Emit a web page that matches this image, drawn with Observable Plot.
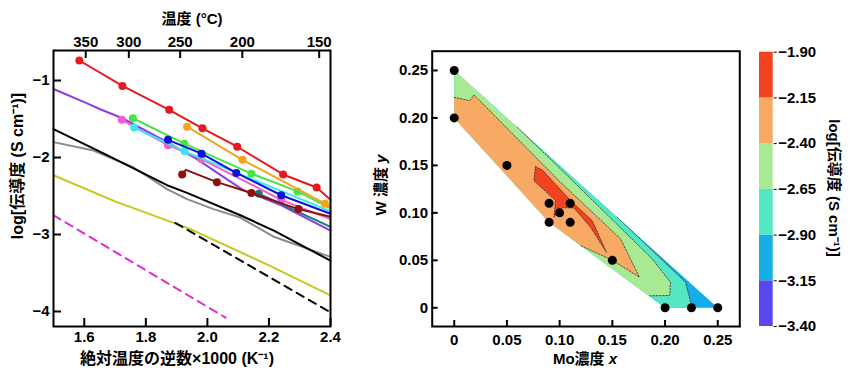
<!DOCTYPE html>
<html><head><meta charset="utf-8">
<script src="https://cdn.jsdelivr.net/npm/d3@7"></script>
<script src="https://cdn.jsdelivr.net/npm/@observablehq/plot@0.6"></script>
<style>
body{margin:0;background:#fff;}
#wrap{position:relative;width:851px;height:380px;overflow:hidden;background:#fff;}
#wrap svg{position:absolute;top:0;}
</style></head><body><div id="wrap"></div>
<script>
const FONT = '"Liberation Sans", Arial, "Noto Sans CJK JP", sans-serif';

// ---------- left panel: ticks ----------
const xTicks = [1.6, 1.8, 2.0, 2.2, 2.4];
const yTicks = [-1, -2, -3, -4];
const tempTicks = [350, 300, 250, 200, 150];

// ---------- left panel: series [1000/T, log sigma, marker?] ----------
const redS     = [[1.584,-0.74,1],[1.724,-1.07,1],[1.876,-1.38,1],[1.984,-1.62,1],[2.097,-1.86,1],[2.246,-2.22,1],[2.355,-2.39,1],[2.4,-2.55,0]];
const orangeS  = [[1.934,-1.60,1],[2.114,-2.03,1],[2.382,-2.60,1],[2.4,-2.64,0]];
const greenS   = [[1.758,-1.49,1],[1.925,-1.82,1],[2.143,-2.21,1],[2.293,-2.44,1],[2.4,-2.66,0]];
const cyanS    = [[1.762,-1.61,1],[1.926,-1.92,1],[2.4,-2.70,0]];
const blueS    = [[1.872,-1.77,1],[1.981,-1.95,1],[2.094,-2.20,1],[2.240,-2.49,1],[2.4,-2.73,0]];
const pinkS    = [[1.722,-1.51,1],[1.872,-1.84,1],[1.980,-2.02,1],[2.240,-2.55,1],[2.4,-2.80,0]];
const purpleS  = [[1.5,-1.11,0],[1.6,-1.28,0],[1.65,-1.37,0],[1.724,-1.49,0],[1.874,-1.81,0],[1.966,-2.02,0],[2.115,-2.42,0],[2.24,-2.62,0],[2.4,-2.95,0]];
const maroonS  = [[1.918,-2.22,1],[1.930,-2.16,0],[2.031,-2.32,1],[2.143,-2.46,1],[2.296,-2.67,1],[2.4,-2.77,0]];
const tealS    = [[2.167,-2.47,1],[2.4,-2.90,0]];
const blackS   = [[1.5,-1.63],[1.674,-1.97],[1.869,-2.36],[1.934,-2.46],[2.107,-2.75],[2.216,-2.95],[2.4,-3.34]];
const grayS    = [[1.5,-1.80],[1.63,-1.91],[1.76,-2.13],[1.869,-2.41],[1.934,-2.54],[2.02,-2.67],[2.107,-2.78],[2.216,-3.03],[2.4,-3.29]];
const yellowS  = [[1.5,-2.23],[1.7,-2.57],[1.945,-2.93],[2.2,-3.40],[2.4,-3.79]];
const blackDashS   = [[1.896,-2.85],[2.4,-4.01]];
const magentaDashS = [[1.5,-2.75],[2.059,-4.08]];

// ---------- right panel data ----------
const moX = [0, 0, 0.05, 0.09, 0.11, 0.10, 0.09, 0.11, 0.15, 0.20, 0.225, 0.25];
const wY  = [0.25, 0.20, 0.15, 0.11, 0.11, 0.10, 0.09, 0.09, 0.05, 0, 0, 0];
const compTicks = [0, 0.05, 0.10, 0.15, 0.20, 0.25];
// region of the map and iso-conductivity boundaries (Mo x, W y)
const hull = [[0,0.25],[0.25,0],[0.2,0],[0.09,0.09],[0,0.2]];
const c290 = [[0.155,0.095],[0.2194,0.027],[0.2257,0]];
const c265 = [[0.06,0.19],[0.1008,0.1463],[0.1878,0.0516],[0.2051,0.027],[0.2045,0.013],[0.1846,0.0126]];
const c240 = [[0,0.2217],[0.0148,0.2182],[0.0186,0.2242],[0.0211,0.2217],[0.1008,0.1322],[0.1578,0.0726],[0.1757,0.0322],[0.15,0.05],[0.12,0.0655]];
const c215 = [[0.0771,0.1487],[0.0835,0.1453],[0.1103,0.1129],[0.1309,0.0919],[0.1444,0.0585],[0.1293,0.0848],[0.1134,0.1053],[0.1024,0.1053],[0.0945,0.0954],[0.0961,0.1129],[0.0755,0.134],[0.0771,0.1487]];

// ---------- colour bar ----------
const cbThresholds = [-3.40, -3.15, -2.90, -2.65, -2.40, -2.15, -1.90];
const cbColors = ["#5a48ee", "#16aee6", "#55e6c4", "#a8ea94", "#f8aa64", "#f1431f"];

const wrap = document.getElementById("wrap");
const baseStyle = {fontFamily: FONT, fontSize: "15px", fontWeight: "bold", color: "#000", background: "transparent", overflow: "visible"};
const X = d => d[0], Y = d => d[1];

function series(data, color, opts = {}) {
  const m = [Plot.line(data, {x: X, y: Y, stroke: color, strokeWidth: 2, ...opts})];
  const pts = data.filter(d => d[2]);
  if (pts.length) m.push(Plot.dot(pts, {x: X, y: Y, r: 4, fill: color, stroke: "none"}));
  return m;
}
// inward tick marks as short rules from the frame edge; labels from the axis marks
function frameAxes(W, H, m, xd, yd, spec) {
  const fw = W - m.l - m.r, fh = H - m.t - m.b, L = spec.len;
  const dX = L * (xd[1] - xd[0]) / fw, dY = L * (yd[1] - yd[0]) / fh;
  const tk = {stroke: "#000", strokeWidth: 2};
  const marks = [];
  if (spec.bottom) {
    marks.push(Plot.ruleX(spec.bottom.ticks, {x: d => d, y1: yd[0], y2: yd[0] + dY, ...tk}));
    marks.push(Plot.axisX({anchor: "bottom", ticks: spec.bottom.ticks, tickFormat: spec.bottom.fmt, tickSize: 0, tickPadding: spec.bottom.pad, label: null}));
  }
  if (spec.top) {
    marks.push(Plot.ruleX(spec.top.ticks, {x: d => d, y1: yd[1], y2: yd[1] - dY, ...tk}));
    marks.push(Plot.axisX({anchor: "top", ticks: spec.top.ticks, tickFormat: spec.top.fmt, tickSize: 0, tickPadding: spec.top.pad, label: null}));
  }
  if (spec.left) {
    marks.push(Plot.ruleY(spec.left.ticks, {y: d => d, x1: xd[0], x2: xd[0] + dX, ...tk}));
    marks.push(Plot.axisY({anchor: "left", ticks: spec.left.ticks, tickFormat: spec.left.fmt, tickSize: 0, tickPadding: spec.left.pad, label: null}));
  }
  return marks;
}

// ================= LEFT PLOT =================
const LM = {l: 53, r: 15, t: 50, b: 54};
const LX = [1.5, 2.4], LY = [-4.195, -0.61];
const left = Plot.plot({
  width: 345, height: 380,
  marginLeft: LM.l, marginRight: LM.r, marginTop: LM.t, marginBottom: LM.b,
  style: baseStyle,
  x: {domain: LX},
  y: {domain: LY},
  marks: [
    ...series(grayS, "#8a8a8a"),
    ...series(blackS, "#000"),
    ...series(yellowS, "#c9c71c"),
    ...series(blackDashS, "#000", {strokeDasharray: "8,6"}),
    ...series(magentaDashS, "#e22ccf", {strokeDasharray: "8,6"}),
    ...series(purpleS, "#8b3ee2"),
    ...series(tealS, "#1d7a78"),
    ...series(pinkS, "#f25fcd"),
    ...series(cyanS, "#3ce8ef"),
    ...series(maroonS, "#8c1010"),
    ...series(greenS, "#46e446"),
    ...series(blueS, "#0c12dc"),
    ...series(orangeS, "#f6a21c"),
    ...series(redS, "#e8191c"),
    Plot.frame({stroke: "#000", strokeWidth: 2}),
    ...frameAxes(345, 380, LM, LX, LY, {
      len: 8,
      bottom: {ticks: xTicks, fmt: d3.format(".1f"), pad: 5},
      top: {ticks: tempTicks.map(t => 1000 / (t + 273.15)), fmt: d => String(Math.round(1000 / d - 273.15)), pad: 4},
      left: {ticks: yTicks, fmt: d3.format("d"), pad: 4}
    })
  ]
});
left.style.left = "0px";
wrap.appendChild(left);

// ================= RIGHT PLOT =================
const S1 = hull;
const S2 = [[0,0.25], ...c290, [0.2,0], [0.09,0.09], [0,0.2]];
const S3 = [[0,0.25], ...c265, [0.09,0.09], [0,0.2]];
const S4 = [...c240, [0.09,0.09], [0,0.2]];
const S5 = c215;
const compFmt = d => d === 0 ? "0" : d3.format(".2f")(d);
const dotted = {stroke: "#333", strokeWidth: 0.8, strokeDasharray: "1.6,1.6"};

const RM = {l: 86.7, r: 10.7, t: 50.7, b: 54};
const RX = [-0.0209, 0.2709], RY = [-0.0197, 0.2703];
const right = Plot.plot({
  width: 405, height: 380,
  marginLeft: RM.l, marginRight: RM.r, marginTop: RM.t, marginBottom: RM.b,
  style: baseStyle,
  x: {domain: RX},
  y: {domain: RY},
  marks: [
    Plot.line(S1, {x: X, y: Y, fill: cbColors[1], stroke: "none"}),
    Plot.line(S2, {x: X, y: Y, fill: cbColors[2], stroke: "none"}),
    Plot.line(S3, {x: X, y: Y, fill: cbColors[3], stroke: "none"}),
    Plot.line(S4, {x: X, y: Y, fill: cbColors[4], stroke: "none"}),
    Plot.line(S5, {x: X, y: Y, fill: cbColors[5], stroke: "none"}),
    Plot.line(c290, {x: X, y: Y, ...dotted}),
    Plot.line(c265, {x: X, y: Y, ...dotted}),
    Plot.line(c240, {x: X, y: Y, ...dotted}),
    Plot.line(c215, {x: X, y: Y, ...dotted}),
    Plot.dot(moX.map((x, i) => [x, wY[i]]), {x: X, y: Y, r: 4.5, fill: "#000", stroke: "none"}),
    Plot.frame({stroke: "#000", strokeWidth: 2}),
    ...frameAxes(405, 380, RM, RX, RY, {
      len: 6,
      bottom: {ticks: compTicks, fmt: compFmt, pad: 8},
      left: {ticks: compTicks, fmt: compFmt, pad: 4}
    })
  ]
});
right.style.left = "345px";
wrap.appendChild(right);

// ================= COLOUR BAR =================
const bands = cbColors.map((c, i) => ({lo: cbThresholds[i], hi: cbThresholds[i + 1], color: c}));
const cbar = Plot.plot({
  width: 106, height: 380,
  marginLeft: 14, marginRight: 78.3, marginTop: 51.7, marginBottom: 54,
  style: baseStyle,
  x: {domain: [0, 1], axis: null},
  y: {domain: [cbThresholds[0], cbThresholds[cbThresholds.length - 1]]},
  color: {type: "identity"},
  marks: [
    Plot.rect(bands, {x1: 0, x2: 1, y1: "lo", y2: "hi", fill: "color"}),
    Plot.axisY({anchor: "right", ticks: cbThresholds, tickFormat: d3.format(".2f"), tickSize: 3, tickPadding: 2, label: null})
  ]
});
cbar.style.left = "745px";
wrap.appendChild(cbar);

// ================= axis titles =================
function addText(svg, x, y, rotate, parts, size = 15, anchor = "middle") {
  const t = d3.select(svg).append("text")
    .attr("transform", `translate(${x},${y}) rotate(${rotate})`)
    .attr("text-anchor", anchor)
    .attr("font-family", FONT).attr("font-size", size).attr("font-weight", "bold").attr("fill", "#000");
  for (const p of parts) {
    const s = t.append("tspan").text(p.t);
    if (p.i) s.attr("font-style", "italic");
  }
}
addText(left, 192, 24, 0, [{t: "温度 (°C)"}]);
addText(left, 23, 166, -90, [{t: "log[伝導度 (S cm⁻¹)]"}], 16);
addText(left, 177, 364, 0, [{t: "絶対温度の逆数×1000 (K⁻¹)"}], 16);
addText(right, 41, 185, -90, [{t: "W 濃度 "}, {t: "y", i: true}]);
addText(right, 240, 364, 0, [{t: "Mo濃度 "}, {t: "x", i: true}]);
addText(cbar, 84, 188, 90, [{t: "log[伝導度 (S cm⁻¹)]"}]);
</script></body></html>
